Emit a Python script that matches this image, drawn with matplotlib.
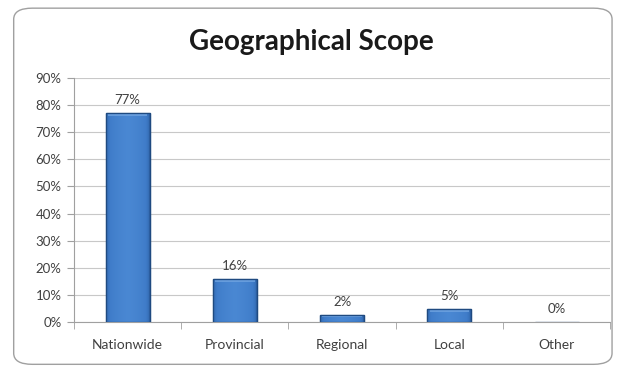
import matplotlib
matplotlib.use("Agg")
import matplotlib.pyplot as plt
import numpy as np
from matplotlib.patches import FancyBboxPatch
from matplotlib.colors import LinearSegmentedColormap

categories = ["Nationwide", "Provincial", "Regional", "Local", "Other"]
values = [77, 16, 2.5, 4.8, 0]
labels = ["77%", "16%", "2%", "5%", "0%"]
yticks = list(range(0, 91, 10))

plt.rcParams['font.family'] = ['Lato', 'DejaVu Sans']

fig = plt.figure(figsize=(6.22, 3.71), dpi=100)
fig.patch.set_facecolor('white')

bg = fig.add_axes([0, 0, 1, 1], zorder=-10)
bg.set_xlim(0, 1)
bg.set_ylim(0, 1)
bg.axis('off')
bg.add_patch(FancyBboxPatch((0.022, 0.018), 0.962, 0.96,
                            boxstyle="round,pad=0,rounding_size=0.03",
                            facecolor='white', edgecolor='#a0a0a0', linewidth=1.0))

ax = fig.add_axes([0.119, 0.132, 0.862, 0.658], zorder=1)
ax.set_facecolor('none')
x = np.arange(len(categories))
bars = ax.bar(x, values, width=0.41, color='#3A74BF', edgecolor='#1F4A80',
              linewidth=0.9, zorder=3)

cmap = LinearSegmentedColormap.from_list('b', ['#2A5C9E', '#3F7CC9', '#4A88D3'])
for b in bars:
    h = b.get_height()
    if h <= 0:
        continue
    g = np.linspace(0, 1, 64)
    grad = (1 - np.abs(g - 0.5) * 2) ** 0.4
    grad = grad.reshape(1, -1)
    im = ax.imshow(grad, extent=[b.get_x(), b.get_x() + b.get_width(), 0, h],
                   aspect='auto', cmap=cmap, zorder=3.5, vmin=0, vmax=1)
    im.set_clip_path(b)
    cap = min(1.2, h * 0.3)
    ax.bar(b.get_x() + b.get_width() / 2, cap, bottom=h - cap, width=b.get_width() * 0.9,
           color='#6FA3E0', linewidth=0, zorder=3.6, alpha=0.8)
    ax.bar(b.get_x() + b.get_width() / 2, h, width=b.get_width(), fill=False,
           edgecolor='#1F4A80', linewidth=0.9, zorder=3.7)

for xi, v, lab in zip(x, values, labels):
    ax.text(xi, v + 2.5, lab, ha='center', va='bottom', fontsize=9.5, color='#404040', zorder=5)

ax.set_xlim(-0.5, len(categories) - 0.5)
ax.set_ylim(0, 90)
ax.set_aspect('auto')
ax.set_yticks(yticks)
ax.set_yticklabels([f"{t}%" for t in yticks], fontsize=9.5, color='#404040')
ax.set_xticks(x)
ax.set_xticklabels(categories, fontsize=10, color='#404040')
ax.tick_params(axis='x', length=0, pad=12)
ax.set_xticks(np.arange(-0.5, len(categories)), minor=True)
ax.tick_params(axis='x', which='minor', length=5, color='#a0a0a0', direction='out')
ax.tick_params(axis='y', length=5, color='#a0a0a0', pad=4)
ax.yaxis.grid(True, color='#c8c8c8', linewidth=0.8, zorder=0)
ax.set_axisbelow(True)
for s in ['top', 'right']:
    ax.spines[s].set_visible(False)
for s in ['left', 'bottom']:
    ax.spines[s].set_color('#a0a0a0')
    ax.spines[s].set_linewidth(0.8)

fig.text(0.5, 0.888, "Geographical Scope", ha='center', va='center',
         fontsize=20, fontweight='bold', color='#1a1a1a')

fig.savefig("out.png", dpi=100)
